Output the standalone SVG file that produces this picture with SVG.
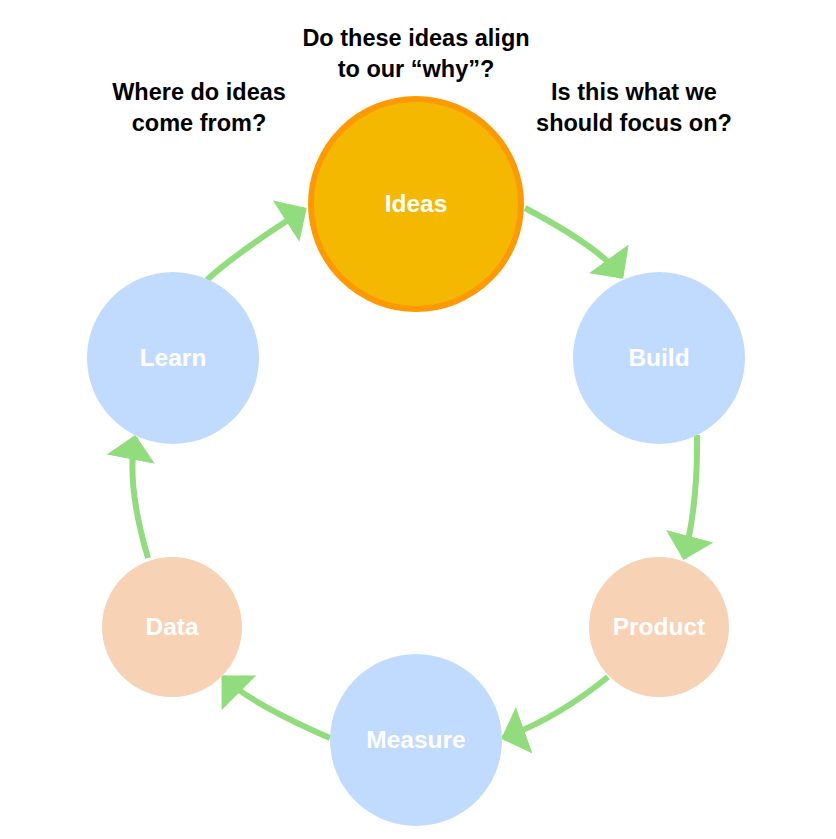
<svg xmlns="http://www.w3.org/2000/svg" width="836" height="839" viewBox="0 0 836 839">
<style>
.q{font-family:"Liberation Sans",Arial,sans-serif;font-weight:bold;font-size:23.5px;fill:#000;text-anchor:middle}
.lbl{font-family:"Liberation Sans",Arial,sans-serif;font-weight:bold;font-size:24.5px;fill:#fff;text-anchor:middle}
.blue{fill:#C0DBFE}
.peach{fill:#F7D2B4}
.conn{fill:none;stroke:#91DC7D;stroke-width:6;marker-end:url(#ah)}
</style>
<defs>
<marker id="ah" markerUnits="userSpaceOnUse" viewBox="0 0 24 48" markerWidth="25" markerHeight="49" refX="22" refY="24" orient="auto">
<path d="M0,0 L24,24 L0,48 Z" fill="#91DC7D"/>
</marker>
</defs>
<rect width="836" height="839" fill="#fff"/>
<g id="questions">
<text class="q" x="416" y="46">Do these ideas align</text>
<text class="q" x="416" y="77">to our “why”?</text>
<text class="q" x="199" y="100">Where do ideas</text>
<text class="q" x="199" y="131">come from?</text>
<text class="q" x="634" y="100">Is this what we</text>
<text class="q" x="634" y="131">should focus on?</text>
</g>
<g id="connectors">
<path class="conn" d="M525,208 Q601,248 622,277"/>
<path class="conn" d="M697,435 Q698,505 684,558"/>
<path class="conn" d="M608,677 Q556,719 503,738"/>
<path class="conn" d="M330,738 Q248,702 223,677"/>
<path class="conn" d="M148,558 Q126,484 135,437"/>
<path class="conn" d="M207,280 Q232,256 305,209"/>
</g>
<g id="ideas">
<circle cx="416" cy="204" r="105" fill="#F5B800" stroke="#FF9900" stroke-width="6"/>
<text class="lbl" x="416" y="212">Ideas</text>
</g>
<g id="build">
<circle class="blue" cx="659" cy="358" r="86"/>
<text class="lbl" x="659" y="366">Build</text>
</g>
<g id="product">
<circle class="peach" cx="659" cy="627" r="70"/>
<text class="lbl" x="659" y="635">Product</text>
</g>
<g id="measure">
<circle class="blue" cx="416" cy="740" r="86"/>
<text class="lbl" x="416" y="748">Measure</text>
</g>
<g id="data">
<circle class="peach" cx="172" cy="627" r="70"/>
<text class="lbl" x="172" y="635">Data</text>
</g>
<g id="learn">
<circle class="blue" cx="173" cy="358" r="86"/>
<text class="lbl" x="173" y="366">Learn</text>
</g>
</svg>
